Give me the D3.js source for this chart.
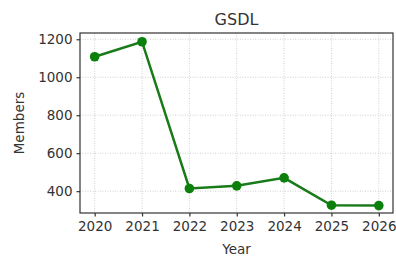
<!DOCTYPE html>
<html>
<head>
<meta charset="utf-8">
<script src="https://cdn.jsdelivr.net/npm/d3@7"></script>
<style>
    body { margin: 0; background: #fff; }
    text { font-family: "DejaVu Sans", sans-serif; fill: #333; }
</style>
</head>
<body>
<div id="chart"></div>
<script>
const years = [2020, 2021, 2022, 2023, 2024, 2025, 2026];
const members = [1108, 1187, 414, 428, 470, 326, 324];
const yTicks = [400, 600, 800, 1000, 1200];

const ctx = {
    w: 396, h: 257,
    margin: {top: 33, right: 3, bottom: 44, left: 80}
};

function drawChart() {
    let svgEl = d3.select("#chart").append("svg")
        .attr("width", ctx.w)
        .attr("height", ctx.h);
    let width = ctx.w - ctx.margin.left - ctx.margin.right;
    let height = ctx.h - ctx.margin.top - ctx.margin.bottom;
    let rootG = svgEl.append("g")
        .attr("transform", "translate(" + ctx.margin.left + "," + ctx.margin.top + ")");

    let x = d3.scaleLinear().domain([2019.69, 2026.3]).range([0, width]);
    let y = d3.scaleLinear().domain([285, 1233]).range([height, 0]);

    // grid
    let gridG = rootG.append("g");
    gridG.selectAll("line.vx").data(years).enter().append("line")
        .attr("x1", d => x(d)).attr("x2", d => x(d))
        .attr("y1", 0).attr("y2", height)
        .attr("stroke", "#c4c4c4").attr("stroke-width", 0.8)
        .attr("stroke-dasharray", "1,1.5");
    gridG.selectAll("line.hy").data(yTicks).enter().append("line")
        .attr("x1", 0).attr("x2", width)
        .attr("y1", d => y(d)).attr("y2", d => y(d))
        .attr("stroke", "#c4c4c4").attr("stroke-width", 0.8)
        .attr("stroke-dasharray", "1,1.5");

    // axes
    let xAxis = rootG.append("g")
        .attr("transform", "translate(0," + height + ")")
        .call(d3.axisBottom(x).tickValues(years).tickFormat(d3.format("d")).tickSizeInner(3.5).tickSizeOuter(0).tickPadding(5));
    let yAxis = rootG.append("g")
        .call(d3.axisLeft(y).tickValues(yTicks).tickFormat(d3.format("d")).tickSizeInner(3.5).tickSizeOuter(0).tickPadding(4));
    [xAxis, yAxis].forEach(a => {
        a.select(".domain").remove();
        a.selectAll("line").attr("stroke", "#333").attr("stroke-width", 1.2);
        a.selectAll("text").style("font-size", "13.5px").style("fill", "#333")
            .style("font-family", "DejaVu Sans");
    });

    rootG.append("rect")
        .attr("width", width).attr("height", height)
        .attr("fill", "none").attr("stroke", "#333").attr("stroke-width", 1.2);

    // line
    let line = d3.line().x((d, i) => x(years[i])).y(d => y(d));
    rootG.append("path")
        .datum(members)
        .attr("d", line)
        .attr("fill", "none")
        .attr("stroke", "#187a18")
        .attr("stroke-width", 2.5);
    rootG.selectAll("circle").data(members).enter().append("circle")
        .attr("cx", (d, i) => x(years[i]))
        .attr("cy", d => y(d))
        .attr("r", 4.8)
        .attr("fill", "#0b800b");

    // labels
    svgEl.append("text")
        .attr("x", ctx.margin.left + width / 2).attr("y", 25)
        .attr("text-anchor", "middle")
        .style("font-size", "16px")
        .text("GSDL");
    svgEl.append("text")
        .attr("x", ctx.margin.left + width / 2).attr("y", 254)
        .attr("text-anchor", "middle")
        .style("font-size", "13.5px")
        .text("Year");
    svgEl.append("text")
        .attr("transform", "translate(24," + (ctx.margin.top + height / 2) + ") rotate(-90)")
        .attr("text-anchor", "middle")
        .style("font-size", "13.5px")
        .text("Members");
}

drawChart();
</script>
</body>
</html>
